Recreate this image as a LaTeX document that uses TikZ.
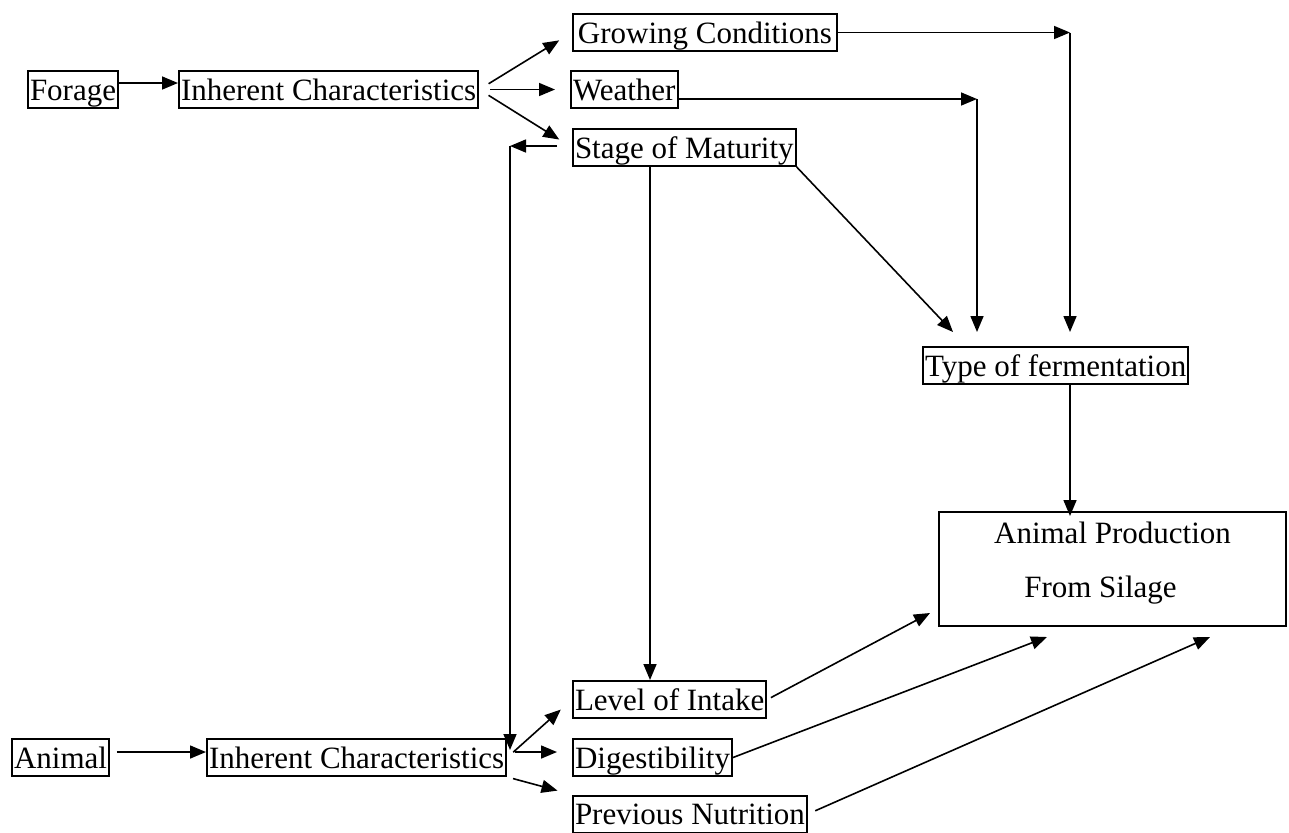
\documentclass[tikz,border=0pt]{standalone}
\usepackage{fontspec}
\setmainfont{Liberation Serif}
\usetikzlibrary{calc}
\usetikzlibrary{positioning}
\usetikzlibrary{arrows.meta}
\tikzset{
  myarrow/.style={
    draw=black,
    line width=0.8pt,
    -{Triangle[length=8pt,width=6.5pt]},
  },
  mybox/.style={
    draw=black,
    shape=rectangle,
    line width=1pt,
    anchor=west,
    inner xsep=1pt,
    inner ysep=0pt,
    text height=14.5pt,
    text depth=4pt,
    font=\fontsize{15.5pt}{18pt}\selectfont
  },
  prodbox/.style={
    draw=black,
    shape=rectangle,
    line width=1pt,
    align=center,
    inner sep=0pt,
    minimum width=173.5pt,
    minimum height=57pt,
    font=\fontsize{15.5pt}{27pt}\selectfont
  },
}

\begin{document}
\begin{tikzpicture}[x=0.5pt, y=-0.5pt]
    \useasboundingbox (0,0) rectangle (1289,832);

    % forage side
    \node[mybox] (forage) at (27,89.5) {Forage};
    \node[mybox] (ic1) at (178,89.5) {Inherent Characteristics};
    \node[mybox, minimum width=132pt] (gc) at (572,32.5) {Growing Conditions};
    \node[mybox] (weather) at (570,89.5) {Weather};
    \node[mybox] (sm) at (572,147.5) {Stage of Maturity};
    \node[mybox] (tf) at (922,365.5) {Type of fermentation};
    \node[prodbox] (ap) at (1112.5,569)
      {Animal Production\\From Silage\hspace*{12pt}\rule[-9.4pt]{0pt}{0pt}};

    % animal side
    \node[mybox] (animal) at (11,757.5) {Animal};
    \node[mybox] (ic2) at (206,757.5) {Inherent Characteristics};
    \node[mybox] (li) at (572,699.5) {Level of Intake};
    \node[mybox] (dg) at (572,757.5) {Digestibility};
    \node[mybox] (pn) at (572,814) {Previous Nutrition};

    \coordinate (gcbend) at (1070,32.5);
    \coordinate (wbend) at (977,99);
    \coordinate (smdrop) at (650,169);
    \coordinate (fbtop) at (510,146);
    \coordinate (fbbot) at (510,750);
    \coordinate (tfin) at (953,332);
    \coordinate (apin1) at (930,613);
    \coordinate (apin2) at (1047,637);
    \coordinate (apin3) at (1210,637);

    \draw[myarrow] ([yshift=3.25pt]forage.east) -- ([yshift=3.25pt]ic1.west);
    \draw[myarrow, shorten <=5.5pt, shorten >=7.5pt] (ic1.east) -- (gc.west);
    \draw[myarrow, shorten <=5.5pt, shorten >=7.5pt] (ic1.east) -- (weather.west);
    \draw[myarrow, shorten <=5.5pt, shorten >=7.5pt] (ic1.east) -- (sm.west);

    \draw[myarrow] (gc.east) -- (gcbend);
    \draw[myarrow] (gcbend) -- (gcbend |- tfin);
    \draw[myarrow] (weather.east |- wbend) -- (wbend);
    \draw[myarrow] (wbend) -- (wbend |- tfin);
    \draw[myarrow] (sm.south east) -- (tfin);
    \draw[myarrow] (tf.south -| gcbend) -- ([yshift=-2.5pt]ap.north -| gcbend);

    \draw[myarrow] (sm.south -| smdrop) -- (li.north -| smdrop);
    \draw[myarrow, shorten <=7.5pt] (sm.west |- fbtop) -- (fbtop);
    \draw[myarrow] (fbtop) -- (fbbot);

    \draw[myarrow, shorten <=3.5pt] ([yshift=2.75pt]animal.east) -- ([yshift=2.75pt]ic2.west);
    \draw[myarrow, shorten <=4pt, shorten >=7.5pt] (ic2.east) -- (li.west);
    \draw[myarrow, shorten <=4pt, shorten >=7.5pt] ([yshift=2.75pt]ic2.east) -- ([yshift=2.75pt]dg.west);
    \draw[myarrow, shorten <=3pt, shorten >=7.5pt] (ic2.south east) -- (pn.north west);

    \draw[myarrow, shorten <=2pt] (li.east) -- (apin1);
    \draw[myarrow] (dg.east) -- (apin2);
    \draw[myarrow, shorten <=4pt] (pn.east) -- (apin3);
\end{tikzpicture}
\end{document}
